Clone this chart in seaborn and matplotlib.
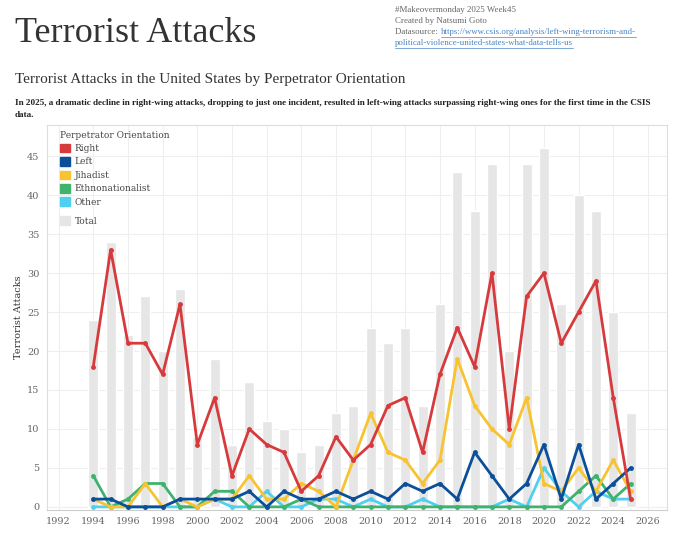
import numpy as np
import pandas as pd
import matplotlib
matplotlib.use("Agg")
import matplotlib.pyplot as plt
import matplotlib.patches as mpatches
import seaborn as sns

# data
years = list(range(1994, 2026))
total = [24, 34, 22, 27, 20, 28, 9, 19, 8, 16, 11, 10, 7, 8, 12, 13,
         23, 21, 23, 13, 26, 43, 38, 44, 20, 44, 46, 26, 40, 38, 25, 12]
right = [18, 33, 21, 21, 17, 26, 8, 14, 4, 10, 8, 7, 2, 4, 9, 6,
         8, 13, 14, 7, 17, 23, 18, 30, 10, 27, 30, 21, 25, 29, 14, 1]
left = [1, 1, 0, 0, 0, 1, 1, 1, 1, 2, 0, 2, 1, 1, 2, 1,
        2, 1, 3, 2, 3, 1, 7, 4, 1, 3, 8, 1, 8, 1, 3, 5]
jihadist = [1, 0, 0, 3, 0, 1, 0, 1, 1, 4, 1, 1, 3, 2, 0, 6,
            12, 7, 6, 3, 6, 19, 13, 10, 8, 14, 3, 2, 5, 2, 6, 2]
ethno = [4, 0, 1, 3, 3, 0, 0, 2, 2, 0, 0, 0, 1, 0, 0, 0,
         0, 0, 0, 0, 0, 0, 0, 0, 0, 0, 0, 0, 2, 4, 1, 3]
other = [0, 0, 0, 0, 0, 0, 0, 1, 0, 0, 2, 0, 0, 1, 1, 0,
         1, 0, 0, 1, 0, 0, 0, 0, 1, 0, 5, 2, 0, 2, 1, 1]

groups = ["Right", "Left", "Jihadist", "Ethnonationalist", "Other"]
colors = {"Right": "#d73a3d", "Left": "#0b4f9a", "Jihadist": "#f8c330",
          "Ethnonationalist": "#3fb36d", "Other": "#4fd0f0"}
bar_color = "#e6e6e6"

df_tot = pd.DataFrame({"Year": years, "Total": total})
df = pd.DataFrame({"Year": years, "Right": right, "Left": left, "Jihadist": jihadist,
                   "Ethnonationalist": ethno, "Other": other})
df_long = df.melt(id_vars="Year", var_name="Orientation", value_name="Attacks")

sns.set_style("white")
plt.rcParams["font.family"] = ["DejaVu Serif"]

W, H = 680, 544
fig = plt.figure(figsize=(6.8, 5.44), dpi=100)
renderer = fig.canvas.get_renderer()

def px(x, y):
    return x / W, 1 - y / H

# header
fig.text(*px(15, 33), "Terrorist Attacks", fontsize=26, color="#333333",
         family="Liberation Serif", va="center", ha="left")

link_col = "#4a86c5"
hdr = dict(fontsize=6.4, family="Liberation Serif", va="center")
fig.text(*px(395, 10), "#Makeovermonday 2025 Week45", color="#666666", **hdr)
fig.text(*px(395, 21), "Created by Natsumi Goto", color="#666666", **hdr)
ds = fig.text(*px(395, 32), "Datasource: ", color="#666666", **hdr)
x_link = ds.get_window_extent(renderer).x1 + 1
l1 = fig.text(x_link / W, 1 - 32 / H, "https://www.csis.org/analysis/left-wing-terrorism-and-",
              color=link_col, **hdr)
l2 = fig.text(*px(395, 43), "political-violence-united-states-what-data-tells-us",
              color=link_col, **hdr)
for t, yy in [(l1, 36.5), (l2, 47.5)]:
    bb = t.get_window_extent(renderer)
    fig.add_artist(plt.Line2D([bb.x0 / W, bb.x1 / W], [1 - yy / H] * 2, color=link_col, lw=0.5))

fig.text(*px(15, 80), "Terrorist Attacks in the United States by Perpetrator Orientation",
         fontsize=11, color="#333333", family="Liberation Serif", va="center")
fig.text(*px(15, 103), "In 2025, a dramatic decline in right-wing attacks, dropping to just one incident, "
         "resulted in left-wing attacks surpassing right-wing ones for the first time in the CSIS",
         fontsize=6.6, color="#222222", family="Liberation Serif", weight="bold", va="center")
fig.text(*px(15, 115), "data.", fontsize=6.6, color="#222222", family="Liberation Serif",
         weight="bold", va="center")

# plot area
ax = fig.add_axes([46.5 / W, 1 - 510 / H, (667 - 46.5) / W, (510 - 125) / H])

ax.bar(df_tot["Year"], df_tot["Total"], width=0.57, color=bar_color, zorder=1)

order = ["Other", "Ethnonationalist", "Jihadist", "Left", "Right"]
for g in order:
    sub = df_long[df_long["Orientation"] == g]
    sns.lineplot(data=sub, x="Year", y="Attacks", color=colors[g], lw=2,
                 marker="o", markersize=3.5, markeredgewidth=0, ax=ax, zorder=3)

ax.set_xlim(1991.3, 2027.1)
ax.set_ylim(-0.4, 49)
ax.set_xticks(range(1992, 2027, 2))
ax.set_yticks(range(0, 46, 5))
ax.grid(True, color="#efefef", lw=0.8)
ax.set_axisbelow(True)
ax.tick_params(axis="both", length=0, labelsize=7, labelcolor="#666666", pad=5)
ax.set_xlabel("")
ax.set_ylabel("Terrorist Attacks", fontsize=7, color="#333333", labelpad=3)
for s in ["top", "right", "left"]:
    ax.spines[s].set_color("#dddddd")
    ax.spines[s].set_linewidth(0.8)
ax.spines["bottom"].set_color("#cccccc")
ax.spines["bottom"].set_linewidth(0.8)

leg_kw = dict(frameon=False, fontsize=6.5, title_fontsize=6.5, handlelength=1.1,
              handleheight=1.1, labelspacing=0.45, handletextpad=0.5, borderaxespad=0.0)
handles = [mpatches.Patch(color=colors[g], label=g) for g in groups]
leg = ax.legend(handles=handles, title="Perpetrator Orientation", loc="upper left",
                bbox_to_anchor=(0.016, 0.995), **leg_kw)
leg._legend_box.align = "left"
for t in leg.get_texts():
    t.set_color("#444444")
leg.get_title().set_color("#444444")
ax.add_artist(leg)

leg2 = ax.legend(handles=[mpatches.Patch(color=bar_color, label="Total")], loc="center left",
                 bbox_to_anchor=(0.0165, (510 - 221) / 385), **leg_kw)
for t in leg2.get_texts():
    t.set_color("#444444")

fig.savefig("out.png", dpi=100)
